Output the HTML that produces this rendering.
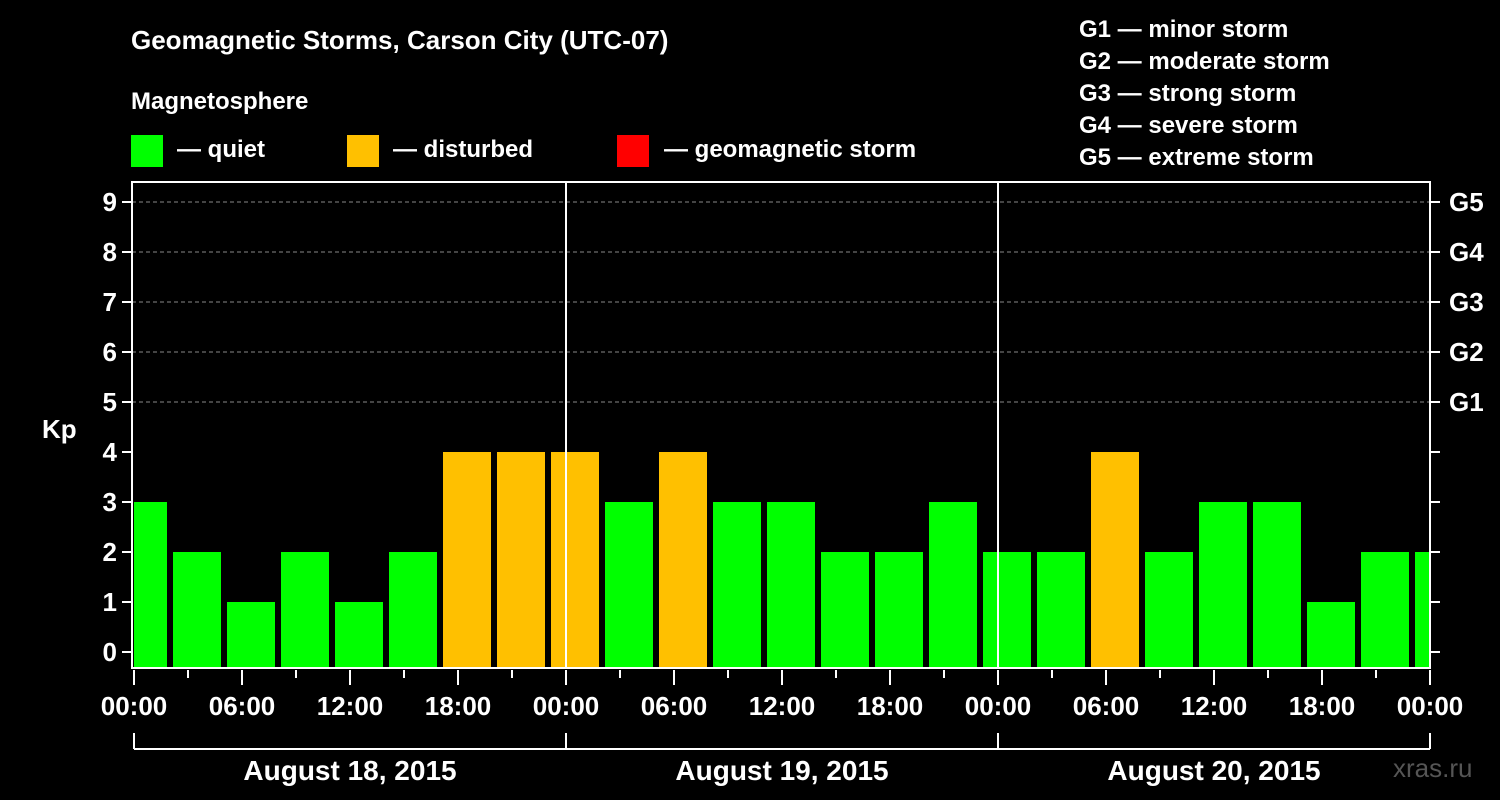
<!DOCTYPE html>
<html><head><meta charset="utf-8"><style>
html,body{margin:0;padding:0;background:#000;}
svg{display:block;font-family:"Liberation Sans",Arial,sans-serif;font-weight:bold;}
</style></head><body>
<svg id="chart" width="1500" height="800" viewBox="0 0 1500 800">
<rect x="0" y="0" width="1500" height="800" fill="#000"/>
<text x="131" y="49" fill="#fff" font-size="26">Geomagnetic Storms, Carson City (UTC-07)</text>
<text x="131" y="109" fill="#fff" font-size="24">Magnetosphere</text>
<g><rect x="131" y="135" width="32" height="32" fill="#00ff00"/><text x="177" y="157" fill="#fff" font-size="24">— quiet</text></g>
<g><rect x="347" y="135" width="32" height="32" fill="#ffc000"/><text x="393" y="157" fill="#fff" font-size="24">— disturbed</text></g>
<g><rect x="617" y="135" width="32" height="32" fill="#ff0000"/><text x="664" y="157" fill="#fff" font-size="24">— geomagnetic storm</text></g>
<g fill="#fff" font-size="24">
<text x="1079" y="37">G1 — minor storm</text>
<text x="1079" y="69">G2 — moderate storm</text>
<text x="1079" y="101">G3 — strong storm</text>
<text x="1079" y="133">G4 — severe storm</text>
<text x="1079" y="165">G5 — extreme storm</text>
</g>
<text x="42" y="438" fill="#fff" font-size="26">Kp</text>
<g id="grid"></g><g id="bars"></g><g id="axes"></g>
<text x="1393" y="777" fill="#555" font-size="26" font-weight="normal">xras.ru</text>
</svg>
<script>
const kpValues=[3,2,1,2,1,2,4,4,4,3,4,3,3,2,2,3,2,2,4,2,3,3,1,2,2];
const yTicks=[0,1,2,3,4,5,6,7,8,9];
const gLabels=["G1","G2","G3","G4","G5"];
const dayLabels=["August 18, 2015","August 19, 2015","August 20, 2015"];
const hourLabels=["00:00","06:00","12:00","18:00"];
const NS="http://www.w3.org/2000/svg";
const L=132,R=1430,T=182,B=668,X0=134,DAY=432;
const xH=h=>X0+h*DAY/24; // hours from start (local)
const y=v=>652-v*50;
function mk(p,tag,at){const e=document.createElementNS(NS,tag);for(const k in at)e.setAttribute(k,at[k]);p.appendChild(e);return e;}
const grid=document.getElementById('grid'),bars=document.getElementById('bars'),axes=document.getElementById('axes');
yTicks.forEach(v=>{
 if(v>=5){const l=mk(grid,'line',{x1:L,x2:R,y1:y(v),y2:y(v),stroke:'#888','stroke-dasharray':'4,3','stroke-width':1});
 
 }
 const t=mk(axes,'line',{x1:122,x2:L,y1:y(v),y2:y(v),stroke:'#fff','stroke-width':2});
 
 
 mk(axes,'line',{x1:R,x2:R+10,y1:y(v),y2:y(v),stroke:'#fff','stroke-width':2});
 const tx=mk(axes,'text',{x:117,y:y(v)+9,fill:'#fff','font-size':26,'text-anchor':'end'});tx.textContent=v;
 
 
 if(v>=5){const g=mk(axes,'text',{x:1449,y:y(v)+9,fill:'#fff','font-size':26});g.textContent=gLabels[v-5];
 
 }
});
const cp=mk(bars,'clipPath',{id:'pc'});mk(cp,'rect',{x:L+2,y:T,width:R-L-2,height:B-T});
kpValues.forEach((v,i)=>{
 const x=xH(3*i-1)+3;
 const col=v>=5?'#ff0000':(v>=4?'#ffc000':'#00ff00');
 const r=mk(bars,'rect',{x:x,y:y(v),width:48,height:B-y(v),fill:col,'clip-path':'url(#pc)'});
 
 
});
const fr=mk(axes,'rect',{x:L,y:T,width:R-L,height:B-T,fill:'none',stroke:'#fff','stroke-width':2});


for(let d=1;d<3;d++){const l=mk(axes,'line',{x1:xH(24*d),x2:xH(24*d),y1:T,y2:B,stroke:'#fff','stroke-width':2});
 
 }
for(let h=0;h<=72;h+=3){const major=h%6===0;
 mk(axes,'line',{x1:xH(h),x2:xH(h),y1:B+2,y2:major?685:678,stroke:'#fff','stroke-width':2});
 if(major){const t=mk(axes,'text',{x:xH(h),y:715,fill:'#fff','font-size':26,'text-anchor':'middle'});t.textContent=hourLabels[(h/6)%4];
 
 }}
mk(axes,'line',{x1:xH(0),x2:xH(72),y1:749,y2:749,stroke:'#fff','stroke-width':2});
for(let d=0;d<=3;d++)mk(axes,'line',{x1:xH(24*d),x2:xH(24*d),y1:733,y2:749,stroke:'#fff','stroke-width':2});
dayLabels.forEach((s,d)=>{const t=mk(axes,'text',{x:xH(24*d+12),y:780,fill:'#fff','font-size':28,'text-anchor':'middle'});t.textContent=s;
 
 });
</script>
</body></html>
